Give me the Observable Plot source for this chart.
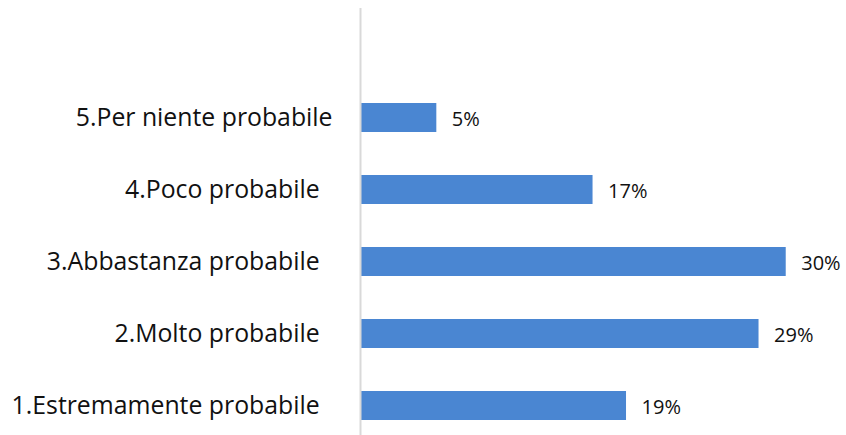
<!DOCTYPE html>
<html>
<head>
<meta charset="utf-8">
<script src="https://cdn.jsdelivr.net/npm/d3@7"></script>
<script src="https://cdn.jsdelivr.net/npm/@observablehq/plot@0.6"></script>
<style>
  html, body { margin: 0; padding: 0; background: #fff; }
  #chart svg { display: block; }
</style>
</head>
<body>
<div id="chart"></div>
<script>
const categories = [
  "5.Per niente probabile",
  "4.Poco probabile\u00a0\u00a0",
  "3.Abbastanza probabile\u00a0\u00a0",
  "2.Molto probabile\u00a0\u00a0",
  "1.Estremamente probabile\u00a0\u00a0"
];
const values = [5.4, 16.6, 30.45, 28.5, 19.0];
const valueLabels = ["5%", "17%", "30%", "29%", "19%"];

const data = categories.map((c, i) => ({cat: c, v: values[i], lab: valueLabels[i]}));

const font = "'Open Sans', Lato, sans-serif";

const chart = Plot.plot({
  width: 846,
  height: 435,
  marginLeft: 361,
  marginRight: 1,
  marginTop: 8,
  marginBottom: 0,
  style: {fontFamily: font, background: "#fff"},
  x: {domain: [0, 34.7], axis: null},
  y: {domain: categories, paddingInner: 0.6, paddingOuter: 0.755, align: 0.858, label: null},
  marks: [
    Plot.barX(data, {y: "cat", x: "v", fill: "#4a86d2"}),
    Plot.ruleX([0], {stroke: "#d9d9d9", strokeWidth: 2, dx: -1}),
    Plot.text(data, {y: "cat", x: "v", text: "lab", textAnchor: "start", dx: 15, dy: 2, fontSize: 20, fill: "#111"}),
    Plot.axisY({tickSize: 0, tickPadding: 29, fontSize: 24.8, color: "#111", label: null})
  ]
});
document.getElementById("chart").appendChild(chart);
</script>
</body>
</html>
